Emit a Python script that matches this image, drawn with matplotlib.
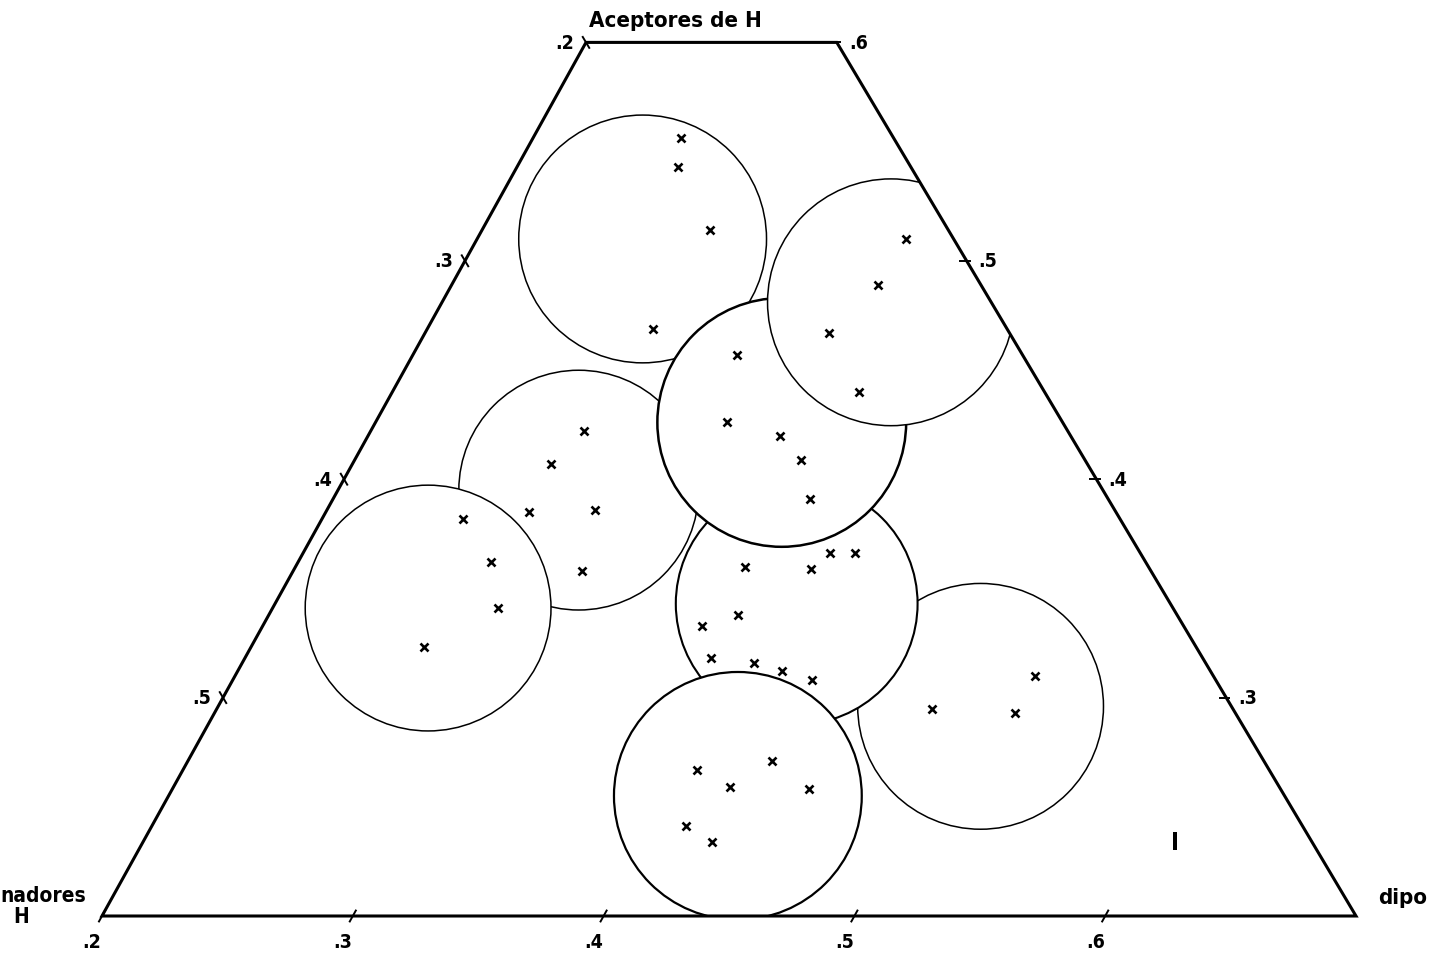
import numpy as np
import matplotlib.pyplot as plt
import matplotlib.transforms as mtransforms
from matplotlib.patches import Circle, Polygon

plt.rcParams['font.family'] = ['DejaVu Sans']
plt.rcParams['font.stretch'] = 'condensed'
plt.rcParams['font.weight'] = 'bold'

# page positions (pixels) of the three corners of the full triangle
corner_d = np.array([102.0, 917.0])   # donores
corner_n = np.array([1356.0, 917.0])  # dipolo
corner_a = np.array([707.0, -175.0])  # aceptores (cut off by the top edge)
a_min, d_min, n_min = 0.2, 0.1, 0.2
span = 0.5
a_top = 0.6

# fractions of each solvent group: acceptor (a) and dipole (n); donor = 1 - a - n
a_g1 = [0.556, 0.543, 0.514, 0.469]
n_g1 = [0.259, 0.264, 0.291, 0.290]
a_g2 = [0.510, 0.489, 0.467, 0.440]
n_g2 = [0.371, 0.370, 0.361, 0.386]
a_g3 = [0.457, 0.426, 0.420, 0.409, 0.391]
n_g3 = [0.329, 0.340, 0.364, 0.378, 0.390]
a_g4 = [0.422, 0.407, 0.385, 0.386, 0.358]
n_g4 = [0.285, 0.279, 0.281, 0.307, 0.315]
a_g5 = [0.382, 0.362, 0.341, 0.323]
n_g5 = [0.256, 0.277, 0.290, 0.269]
a_g6 = [0.366, 0.366, 0.359, 0.360, 0.338, 0.333, 0.318, 0.316, 0.312, 0.308]
n_g6 = [0.410, 0.420, 0.406, 0.379, 0.387, 0.375, 0.386, 0.404, 0.417, 0.431]
a_g7 = [0.310, 0.295, 0.293]
n_g7 = [0.519, 0.485, 0.519]
a_g8 = [0.267, 0.271, 0.259, 0.258, 0.241, 0.234]
n_g8 = [0.405, 0.433, 0.422, 0.454, 0.413, 0.427]

# group circles: centre (a, n) and radius in composition units, listed bottom to top
circ_a = [0.510, 0.395, 0.341, 0.296, 0.343, 0.426, 0.481, 0.255]
circ_n = [0.266, 0.296, 0.262, 0.504, 0.408, 0.362, 0.379, 0.427]
circ_r = [0.0494, 0.0478, 0.0490, 0.0490, 0.0482, 0.0496, 0.0492, 0.0494]
circ_lw = [1.1, 1.1, 1.1, 1.1, 1.5, 1.8, 1.1, 1.6]

bottom_ticks = [0.2, 0.3, 0.4, 0.5, 0.6]
left_ticks = [0.2, 0.3, 0.4, 0.5]
right_ticks = [0.3, 0.4, 0.5, 0.6]

fig = plt.figure(figsize=(14.36, 9.62), dpi=100)
ax = fig.add_axes([0, 0, 1, 1])
ax.set_xlim(0, 1436)
ax.set_ylim(962, 0)
ax.axis('off')

# (n, a) composition -> page pixels
vn = (corner_n - corner_d) / span
va = (corner_a - corner_d) / span
off = corner_d - n_min * vn - a_min * va
tern = mtransforms.Affine2D.from_values(vn[0], vn[1], va[0], va[1], off[0], off[1])
tt = tern + ax.transData

# truncated triangle outline
edge_n = [n_min, 1 - a_min - d_min, 1 - a_top - d_min, n_min]
edge_a = [a_min, a_min, a_top, a_top]
outline = Polygon(np.column_stack([edge_n, edge_a]), closed=True, fill=False,
                  ec='black', lw=2.2, transform=tt, zorder=5, joinstyle='miter')
ax.add_patch(outline)

px_per_unit = vn[0]
for ca, cn, cr, lw in zip(circ_a, circ_n, circ_r, circ_lw):
    cx, cy = tern.transform((cn, ca))
    c = Circle((cx, cy), cr * px_per_unit, fc='white', ec='black', lw=lw, zorder=2)
    ax.add_patch(c)
    c.set_clip_path(outline)

groups = [(a_g1, n_g1), (a_g2, n_g2), (a_g3, n_g3), (a_g4, n_g4),
          (a_g5, n_g5), (a_g6, n_g6), (a_g7, n_g7), (a_g8, n_g8)]
for ga, gn in groups:
    ax.plot(gn, ga, ls='none', marker='x', ms=5.5, mew=1.9, color='black',
            transform=tt, zorder=6)

eps = 0.0025
tick_kw = dict(color='black', lw=1.4, transform=tt, zorder=6)
lab_kw = dict(xycoords=tt, textcoords='offset pixels', fontsize=14,
              fontweight='bold', va='center')

# bottom edge: dipole fraction
for v in bottom_ticks:
    ax.plot([v, v], [a_min - eps, a_min + eps], **tick_kw)
    ax.annotate('.%d' % round(v * 10), (v, a_min), xytext=(-10, -26),
                ha='center', **lab_kw)

# left edge: donor fraction
for v in left_ticks:
    a = 1 - n_min - v
    ax.plot([n_min - eps, n_min + eps], [a + eps, a - eps], **tick_kw)
    ax.annotate('.%d' % round(v * 10), (n_min, a), xytext=(-12, 0),
                ha='right', **lab_kw)

# right edge: acceptor fraction
for v in right_ticks:
    n = 1 - d_min - v
    ax.plot([n - eps, n + eps * 0.5], [v, v], **tick_kw)
    ax.annotate('.%d' % round(v * 10), (n, v), xytext=(12, 0),
                ha='left', **lab_kw)

ax.text(675, 21, 'Aceptores de H', fontsize=16, fontweight='bold',
        ha='center', va='center')
ax.text(0, 896, 'nadores', fontsize=15, fontweight='bold',
        ha='left', va='center')
ax.text(21, 917, 'H', fontsize=15, fontweight='bold', ha='center', va='center')
ax.text(1378, 898, 'dipo', fontsize=16, fontweight='bold',
        ha='left', va='center')
ax.text(1175, 843, 'I', fontsize=17, fontweight='bold', ha='center', va='center')

fig.savefig('out.png', dpi=100, facecolor='white')
